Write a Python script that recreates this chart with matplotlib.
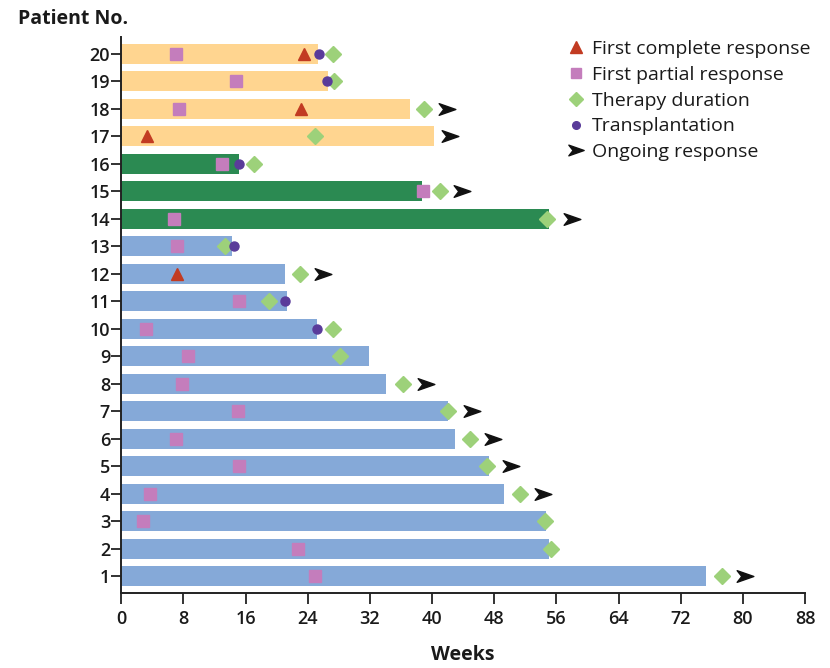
import numpy as np
import matplotlib
matplotlib.use("Agg")
import matplotlib.pyplot as plt
from matplotlib.path import Path
from matplotlib.lines import Line2D

nan = np.nan
patients = list(range(1, 21))
# bar length (weeks) per patient 1..20
response_weeks = [75.3, 55.1, 54.6, 49.2, 47.3, 42.9, 42.1, 34.1, 31.9, 25.2,
                  21.4, 21.1, 14.2, 55.1, 38.7, 15.2, 40.3, 37.1, 26.6, 25.3]
groups = ["blue"] * 13 + ["green"] * 3 + ["orange"] * 4
first_complete = [nan, nan, nan, nan, nan, nan, nan, nan, nan, nan,
                  nan, 7.2, nan, nan, nan, nan, 3.3, 23.1, nan, 23.5]
first_partial = [24.9, 22.7, 2.8, 3.7, 15.1, 7.1, 15.0, 7.8, 8.6, 3.2,
                 15.1, nan, 7.2, 6.8, 38.8, 13.0, nan, 7.4, 14.8, 7.1]
therapy_duration = [77.3, 55.3, 54.5, 51.3, 47.1, 44.9, 42.1, 36.3, 28.1, 27.3,
                    19.0, 23.0, 13.4, 54.8, 41.0, 17.1, 24.9, 39.0, 27.4, 27.3]
transplantation = [nan, nan, nan, nan, nan, nan, nan, nan, nan, 25.2,
                   21.1, nan, 14.5, nan, nan, 15.1, nan, nan, 26.5, 25.4]
ongoing = [80.3, nan, nan, 54.3, 50.2, 47.9, 45.1, 39.2, nan, nan,
           nan, 26.0, nan, 58.0, 43.8, nan, 42.3, 41.9, nan, nan]
xticks = list(range(0, 89, 8))

colors = {"blue": "#85A9D8", "green": "#2B8A52", "orange": "#FFD590"}
c_tri = "#C23B22"
c_sq = "#C47DBC"
c_dia = "#9DD17A"
c_circ = "#5A3C9A"
c_arrow = "#111111"

arrow_path = Path([(-1.0, -0.7), (1.0, 0.0), (-1.0, 0.7), (-0.45, 0.0), (-1.0, -0.7)],
                  [Path.MOVETO, Path.LINETO, Path.LINETO, Path.LINETO, Path.CLOSEPOLY])

plt.rcParams['font.family'] = ['Open Sans', 'DejaVu Sans']

fig = plt.figure(figsize=(8.3, 6.68), dpi=100)
ax = fig.add_axes([0.146, 0.112, 0.824, 0.833])

ax.barh(patients, response_weeks, height=0.72,
        color=[colors[g] for g in groups], edgecolor='none', zorder=1)

ax.plot(first_complete, patients, linestyle='none', marker='^', markersize=9,
        color=c_tri, zorder=3)
ax.plot(first_partial, patients, linestyle='none', marker='s', markersize=8.5,
        color=c_sq, zorder=3)
ax.plot(therapy_duration, patients, linestyle='none', marker='D', markersize=8,
        color=c_dia, zorder=3)
ax.plot(transplantation, patients, linestyle='none', marker='o', markersize=6.5,
        color=c_circ, zorder=4)
ax.plot(ongoing, patients, linestyle='none', marker=arrow_path, markersize=12,
        color=c_arrow, zorder=3)

ax.set_xlim(0, 88)
ax.set_ylim(0.38, 20.62)
ax.set_xticks(xticks)
ax.set_xticklabels([str(t) for t in xticks])
ax.set_yticks(patients)
ax.set_yticklabels([str(p) for p in patients])
for s in ['top', 'right']:
    ax.spines[s].set_visible(False)
for s in ['left', 'bottom']:
    ax.spines[s].set_linewidth(1.4)
    ax.spines[s].set_color('#222222')
ax.tick_params(axis='y', length=7, width=1.3, labelsize=13, pad=1, colors='#222222')
ax.tick_params(axis='x', length=8, width=1.3, labelsize=13, pad=4, colors='#222222')
for lab in ax.get_xticklabels() + ax.get_yticklabels():
    lab.set_fontweight('semibold')
    lab.set_color('#1a1a1a')

ax.set_xlabel("Weeks", fontsize=14, fontweight='bold', labelpad=12, color='#1a1a1a')
fig.text(0.022, 0.972, "Patient No.", fontsize=14, fontweight='bold',
         ha='left', va='center', color='#1a1a1a')

handles = [
    Line2D([], [], linestyle='none', marker='^', markersize=8, color=c_tri),
    Line2D([], [], linestyle='none', marker='s', markersize=7.5, color=c_sq),
    Line2D([], [], linestyle='none', marker='D', markersize=7, color=c_dia),
    Line2D([], [], linestyle='none', marker='o', markersize=5.5, color=c_circ),
    Line2D([], [], linestyle='none', marker=arrow_path, markersize=11, color=c_arrow),
]
labels = ["First complete response", "First partial response", "Therapy duration",
          "Transplantation", "Ongoing response"]
leg = ax.legend(handles, labels, loc='upper right', bbox_to_anchor=(1.025, 1.015),
                frameon=False, fontsize=14, handlelength=0.9, handletextpad=0.4,
                labelspacing=0.4, borderaxespad=0.2)
for t in leg.get_texts():
    t.set_color('#1a1a1a')

fig.savefig("out.png", dpi=100)
